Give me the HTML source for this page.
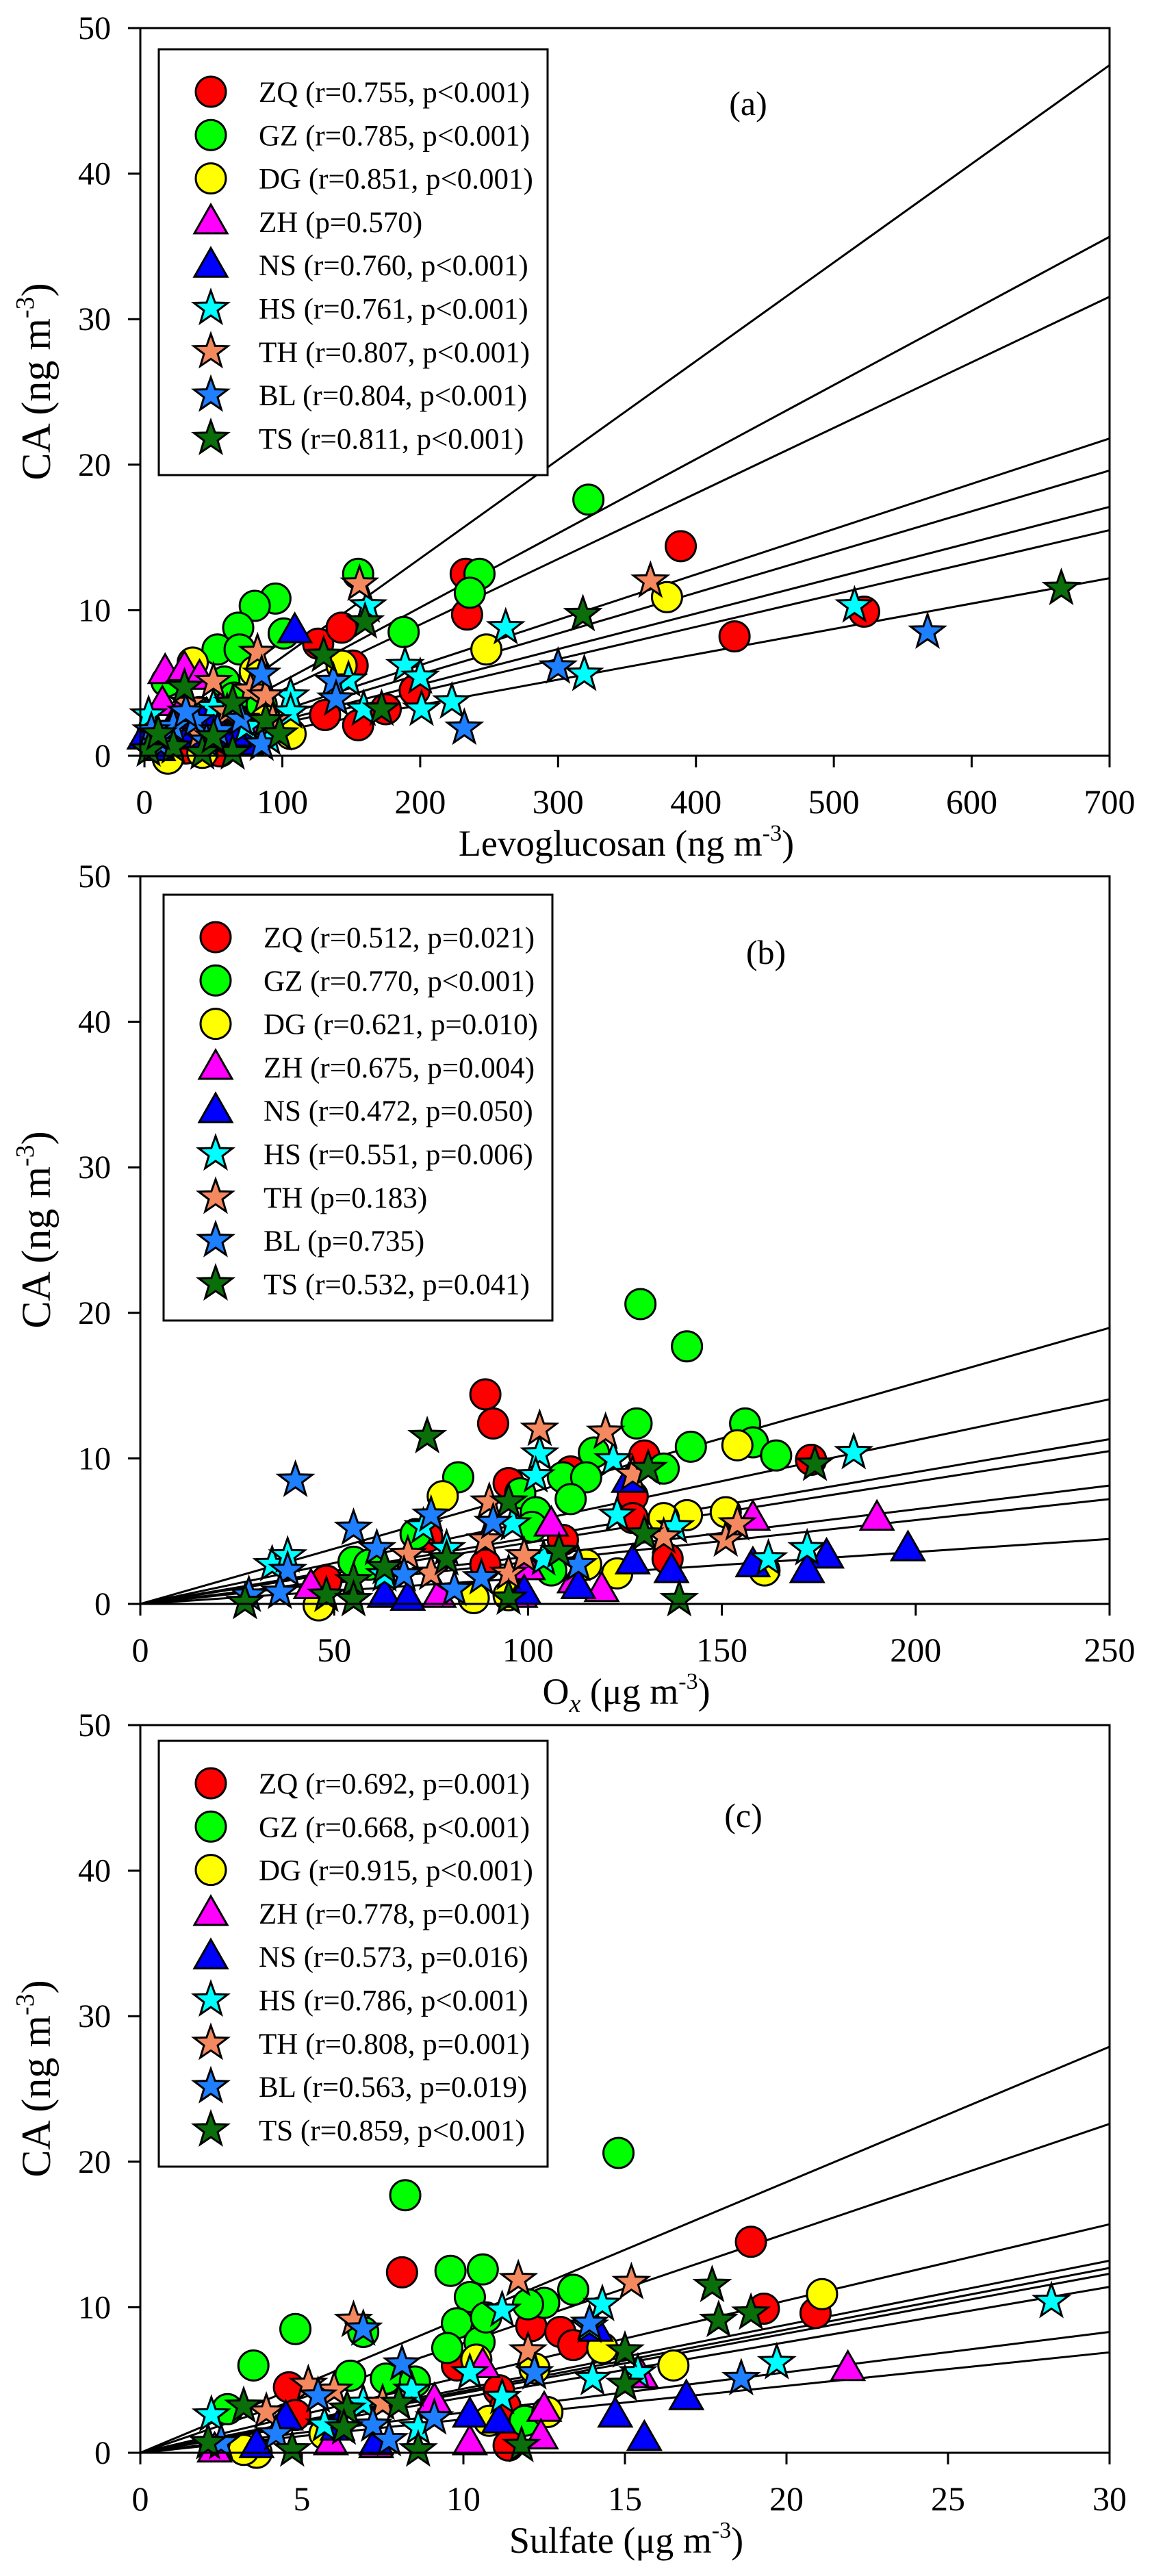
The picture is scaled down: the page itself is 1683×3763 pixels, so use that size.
<!DOCTYPE html>
<html><head><meta charset="utf-8"><style>
html,body{margin:0;padding:0;background:#fff;}
svg{display:block;}
text{font-family:"Liberation Serif",serif;fill:#000;}
</style></head><body>
<svg id="chart" xmlns="http://www.w3.org/2000/svg" width="1683" height="3763" viewBox="0 0 1683 3763"></svg>
<script>
// ---------- shared ----------
const sites = ["ZQ","GZ","DG","ZH","NS","HS","TH","BL","TS"];
const siteColors = ["#ff0000","#00ff00","#ffff00","#ff00ff","#0000ff","#00ffff","#f4895f","#1e7fff","#0a6e0a"];
const siteShapes = ["circle","circle","circle","tri","tri","star","star","star","star"];
const yTicks = [0,10,20,30,40,50];

// ---------- panel (a) Levoglucosan ----------
const aXTicks = [0,100,200,300,400,500,600,700];
const aLegend = ["ZQ (r=0.755, p<0.001)","GZ (r=0.785, p<0.001)","DG (r=0.851, p<0.001)","ZH (p=0.570)","NS (r=0.760, p<0.001)","HS (r=0.761, p<0.001)","TH (r=0.807, p<0.001)","BL (r=0.804, p<0.001)","TS (r=0.811, p<0.001)"];
const aLineEnds = [47.45,35.66,31.54,21.8,19.6,17.1,15.5,12.2];
const aZQ = [[233,12.5],[234,9.7],[389,14.4],[428,8.2],[522,9.9],[126,7.7],[143,8.8],[151,6.2],[196,4.5],[175,3.2],[155,2.1],[131,2.8],[50,2],[60,1],[30,0.5],[75,3.5],[55,0.3]];
const aGZ = [[322,17.6],[155,12.5],[243,12.5],[236,11.2],[95,10.8],[80,10.3],[68,8.8],[101,8.4],[188,8.5],[53,7.3],[69,7.3],[58,5.1],[16,5.1],[40,3],[65,4],[30,2.5],[85,3.5]];
const aDG = [[379,10.9],[248,7.3],[143,6.2],[80,5.8],[35,6.4],[88,2.4],[106,1.5],[42,0.2],[17,-0.2],[60,1.2],[25,1.8]];
const aZH = [[15,5.8],[29,6],[40,5.4],[13,3.6],[27,3.2],[42,2.4],[80,1.5],[55,3.2],[20,1.5]];
const aNS = [[109,8.6],[0,1.3],[53,2],[32,1.3],[74,0.9],[10,0.5],[45,2.8],[65,1.5]];
const aHS = [[515,10.3],[162,10.3],[262,8.8],[189,6.2],[200,5.4],[319,5.6],[223,3.7],[201,3.2],[148,5.2],[106,4.1],[106,3],[3,2.8],[74,2],[159,3.2],[20,2],[50,3.3],[90,1.2]];
const aTH = [[367,12],[156,11.8],[82,7.1],[50,5.1],[77,4.5],[88,4.1],[32,3.6],[93,2.4],[60,3],[40,1.5]];
const aBL = [[568,8.5],[300,6.1],[232,1.9],[85,5.6],[137,5.1],[139,3.9],[37,2.4],[21,2],[53,1.7],[85,0.8],[5,1.7],[12,0.8],[45,1],[70,2.5],[30,3]];
const aTS = [[665,11.5],[318,9.7],[160,9.2],[130,6.9],[172,3.2],[29,4.7],[64,3.6],[88,2.4],[98,1.5],[21,0.6],[42,0.2],[64,0.2],[3,0.4],[50,1.3],[10,1.5]];

// ---------- panel (b) Ox ----------
const bXTicks = [0,50,100,150,200,250];
const bLegend = ["ZQ (r=0.512, p=0.021)","GZ (r=0.770, p<0.001)","DG (r=0.621, p=0.010)","ZH (r=0.675, p=0.004)","NS (r=0.472, p=0.050)","HS (r=0.551, p=0.006)","TH (p=0.183)","BL (p=0.735)","TS (r=0.532, p=0.041)"];
const bLineEnds = [18.97,14.06,11.32,10.5,8.13,7.2,4.46];
const bZQ = [[89,14.4],[91,12.4],[130,10.2],[173,9.9],[95,8.3],[111,9.1],[127,7.4],[127,5.9],[109,4.4],[136,3.1],[74,4.6],[48,1.6],[89,2.7]];
const bGZ = [[129,20.6],[141,17.7],[128,12.4],[156,12.4],[158,11.1],[142,10.8],[164,10.2],[135,9.3],[117,10.4],[109,8.7],[115,8.7],[111,7.2],[82,8.7],[98,7.6],[102,6.3],[71,4.8],[101,5.3],[55,2.9],[59,2.7],[106,2.3]];
const bDG = [[154,10.9],[78,7.4],[151,6.3],[141,6.1],[135,5.9],[115,2.7],[123,2.1],[161,2.3],[86,0.4],[46,-0.1],[95,0.6]];
const bZH = [[190,5.9],[158,5.9],[106,5.5],[119,1],[77,0.6],[98,0.6],[44,1.2],[112,1.6],[100,2.5]];
const bNS = [[198,3.8],[177,3.3],[172,2.3],[158,2.7],[137,2.3],[127,2.9],[126,8.5],[113,1.2],[99,0.8],[63,0.6],[69,0.4]];
const bHS = [[184,10.4],[103,10.3],[102,8.8],[122,9.9],[123,6.1],[96,5.5],[73,5.3],[138,5.3],[162,3.1],[172,3.8],[34,2.7],[38,3.3],[79,3.8],[104,3.1],[63,2]];
const bTH = [[103,12],[120,11.8],[127,8.9],[90,7],[89,4.4],[69,3.4],[75,2.1],[95,2.1],[99,3.3],[135,4.6],[151,4.4],[154,5.5]];
const bBL = [[40,8.5],[55,5.2],[75,6.1],[91,5.6],[61,3.8],[38,2.3],[36,0.8],[68,2],[81,1],[88,1.8],[113,2.7],[28,0.6]];
const bTS = [[74,11.5],[174,9.6],[131,9.3],[95,7],[108,3.6],[130,4.8],[79,3.1],[63,2.5],[55,1.6],[48,0.6],[27,0.1],[55,0.3],[95,0.4],[139,0.3]];

// ---------- panel (c) Sulfate ----------
const cXTicks = [0,5,10,15,20,25,30];
const cLegend = ["ZQ (r=0.692, p=0.001)","GZ (r=0.668, p<0.001)","DG (r=0.915, p<0.001)","ZH (r=0.778, p=0.001)","NS (r=0.573, p=0.016)","HS (r=0.786, p<0.001)","TH (r=0.808, p=0.001)","BL (r=0.563, p=0.019)","TS (r=0.859, p<0.001)"];
const cLineEnds = [27.9,22.6,15.7,13.2,12.7,12.3,11.4,8.3,6.9];
const cZQ = [[18.9,14.5],[8.1,12.4],[19.3,9.9],[20.9,9.6],[12.1,8.7],[13,8.3],[13.4,7.4],[9.8,6],[4.6,4.5],[4.8,2.6],[11.1,4.3],[11.4,0.5],[11.3,3.2]];
const cGZ = [[14.8,20.6],[8.2,17.7],[9.6,12.5],[10.6,12.6],[13.4,11.2],[12.5,10.3],[12.0,10.2],[10.2,10.7],[9.8,8.9],[9.5,7.2],[10.5,7.6],[10.7,9.3],[6.9,8.3],[4.8,8.5],[3.5,6],[6.5,5.3],[7.6,5.1],[8.5,4.9],[2.7,3],[11.9,2.2]];
const cDG = [[21.1,10.9],[14.3,7.2],[10.4,6.4],[16.5,6],[12.2,5.8],[12.6,2.8],[10.8,2.2],[5.7,1.3],[3.6,0],[3.2,0.2]];
const cZH = [[21.9,5.8],[10.6,6],[15.5,5.3],[9.1,3.6],[12.5,3],[12.4,1.1],[10.2,0.7],[5.9,0.7],[7.3,0.5],[2.3,0.2]];
const cNS = [[16.9,3.8],[14.7,2.6],[15.6,1],[10.2,2.6],[11.1,2.2],[14.1,8.5],[4.5,2.4],[6.1,1.7],[3.6,0.5],[7.3,0.7]];
const cHS = [[28.2,10.4],[14.3,10.2],[11.2,9.8],[13.9,8.7],[19.7,6.2],[14,5.1],[15.4,5.5],[10.2,5.5],[11.2,3.8],[2.2,2.6],[8.4,4.3],[6.9,3.4],[5.7,1.9],[8.6,1.7]];
const cTH = [[11.7,11.9],[15.2,11.7],[6.6,9.1],[12,7],[5.2,4.7],[6,4.3],[3.9,2.8],[7.5,3.4]];
const cBL = [[6.9,8.5],[8.1,6.1],[18.6,5.1],[12.2,5.5],[13.9,8.9],[5.5,3.9],[9.1,2.4],[7.2,1.9],[4.2,1.3],[7.7,0.9],[2.5,0.7]];
const cTS = [[17.7,11.5],[17.9,9.1],[18.9,9.6],[15,7],[15,4.7],[8,3.4],[6.4,3],[3.2,3.2],[6.3,1.7],[2.1,0.7],[4.7,0.2],[8.6,0.2],[11.8,0.5]];

const NS_ = "http://www.w3.org/2000/svg";
const svg = document.getElementById('chart');
function mk(tag, attrs, parent){
  const e = document.createElementNS(NS_, tag);
  for (const k in attrs) e.setAttribute(k, attrs[k]);
  (parent||svg).appendChild(e);
  return e;
}
function starPts(cx, cy, R, r){
  let p=[];
  for(let i=0;i<10;i++){
    const a = -Math.PI/2 + i*Math.PI/5;
    const rr = i%2===0 ? R : r;
    p.push((cx+rr*Math.cos(a)).toFixed(1)+","+(cy+rr*Math.sin(a)).toFixed(1));
  }
  return p.join(" ");
}
function marker(g, shape, color, cx, cy){
  let e;
  if(shape==="circle"){
    e = mk('ellipse',{cx:cx,cy:cy,rx:22,ry:22,fill:color,stroke:'#000','stroke-width':3},g);
  } else if(shape==="tri"){
    e = mk('polygon',{points:`${cx},${cy-25} ${cx+24},${cy+17} ${cx-24},${cy+17}`,fill:color,stroke:'#000','stroke-width':3,'stroke-linejoin':'miter'},g);
  } else {
    e = mk('polygon',{points:starPts(cx,cy,26,10.5),fill:color,stroke:'#000','stroke-width':3,'stroke-linejoin':'miter'},g);
  }
  return e;
}

function panel(p){
  const g = mk('g',{});
  
  
  const L=205, R=1621, T=p.top, B=p.top+1063;
  const xs = v => L + (v - p.xmin)/(p.xmax - p.xmin)*(R-L);
  const ys = v => B - v/50*(B-T);

  const lg = mk('g',{},g);
  
  
  p.lines.forEach((v,i)=>{
    const ln = mk('line',{x1:xs(0),y1:ys(0),x2:xs(p.xmax),y2:ys(v),stroke:'#000','stroke-width':3},lg);
    
    
  });
  p.data.forEach((arr,si)=>{
    const sg = mk('g',{},g);
    
    
    arr.forEach(d=>{
      const m = marker(sg, siteShapes[si], siteColors[si], xs(d[0]), ys(d[1]));
      
      
    });
  });
  const fr = mk('rect',{x:L,y:T,width:R-L,height:B-T,fill:'none',stroke:'#000','stroke-width':3},g);
  
  
  yTicks.forEach(v=>{
    const t = mk('line',{x1:L-18,y1:ys(v),x2:L,y2:ys(v),stroke:'#000','stroke-width':3},g);
    
    
    const tx = mk('text',{x:162,y:ys(v)+16,'font-size':48,'text-anchor':'end'},g);
    tx.textContent = v;
    
    
  });
  p.xticks.forEach(v=>{
    const t = mk('line',{x1:xs(v),y1:B,x2:xs(v),y2:B+17,stroke:'#000','stroke-width':3},g);
    
    
    const tx = mk('text',{x:xs(v),y:B+84,'font-size':50,'text-anchor':'middle'},g);
    tx.textContent = v;
    
    
  });
  const yt = mk('text',{x:0,y:0,'font-size':60,'text-anchor':'middle',transform:`translate(73,${(T+B)/2-15}) rotate(-90)`},g);
  
  
  yt.innerHTML = 'CA (ng m<tspan font-size="38" dy="-24">-3</tspan><tspan dy="24">)</tspan>';
  const xt = mk('text',{x:915,y:B+146,'font-size':54,'text-anchor':'middle'},g);
  
  
  xt.innerHTML = p.xtitle;
  const pl = mk('text',{x:p.labX,y:p.labY,'font-size':50,'text-anchor':'middle'},g);
  pl.textContent = '('+p.id+')';
  
  
  const leg = mk('g',{},g);
  
  
  const lb = mk('rect',{x:p.legX,y:p.legY,width:568,height:622,fill:'#fff',stroke:'#000','stroke-width':3},leg);
  
  
  p.legend.forEach((s,i)=>{
    const cy = p.legY + 62 + i*63.3;
    const en = mk('g',{},leg);
    
    
    marker(en, siteShapes[i], siteColors[i], p.legX+76, cy);
    const tx = mk('text',{x:p.legX+146,y:cy+15,'font-size':43},en);
    tx.textContent = s;
  });
}

panel({id:'a',top:41,xmin:-3,xmax:700,xticks:aXTicks,lines:aLineEnds,
  data:[aZQ,aGZ,aDG,aZH,aNS,aHS,aTH,aBL,aTS],legend:aLegend,legX:232,legY:72,labX:1093,labY:168,
  xtitle:'Levoglucosan (ng m<tspan font-size="34" dy="-22">-3</tspan><tspan dy="22">)</tspan>'});
panel({id:'b',top:1280,xmin:0,xmax:250,xticks:bXTicks,lines:bLineEnds,
  data:[bZQ,bGZ,bDG,bZH,bNS,bHS,bTH,bBL,bTS],legend:bLegend,legX:239,legY:1307,labX:1119,labY:1408,
  xtitle:'O<tspan font-size="38" font-style="italic" dy="12">x</tspan><tspan dy="-12"> (μg m</tspan><tspan font-size="34" dy="-22">-3</tspan><tspan dy="22">)</tspan>'});
panel({id:'c',top:2520,xmin:0,xmax:30,xticks:cXTicks,lines:cLineEnds,
  data:[cZQ,cGZ,cDG,cZH,cNS,cHS,cTH,cBL,cTS],legend:cLegend,legX:232,legY:2543,labX:1086,labY:2669,
  xtitle:'Sulfate (μg m<tspan font-size="34" dy="-22">-3</tspan><tspan dy="22">)</tspan>'});
</script>
</body></html>
